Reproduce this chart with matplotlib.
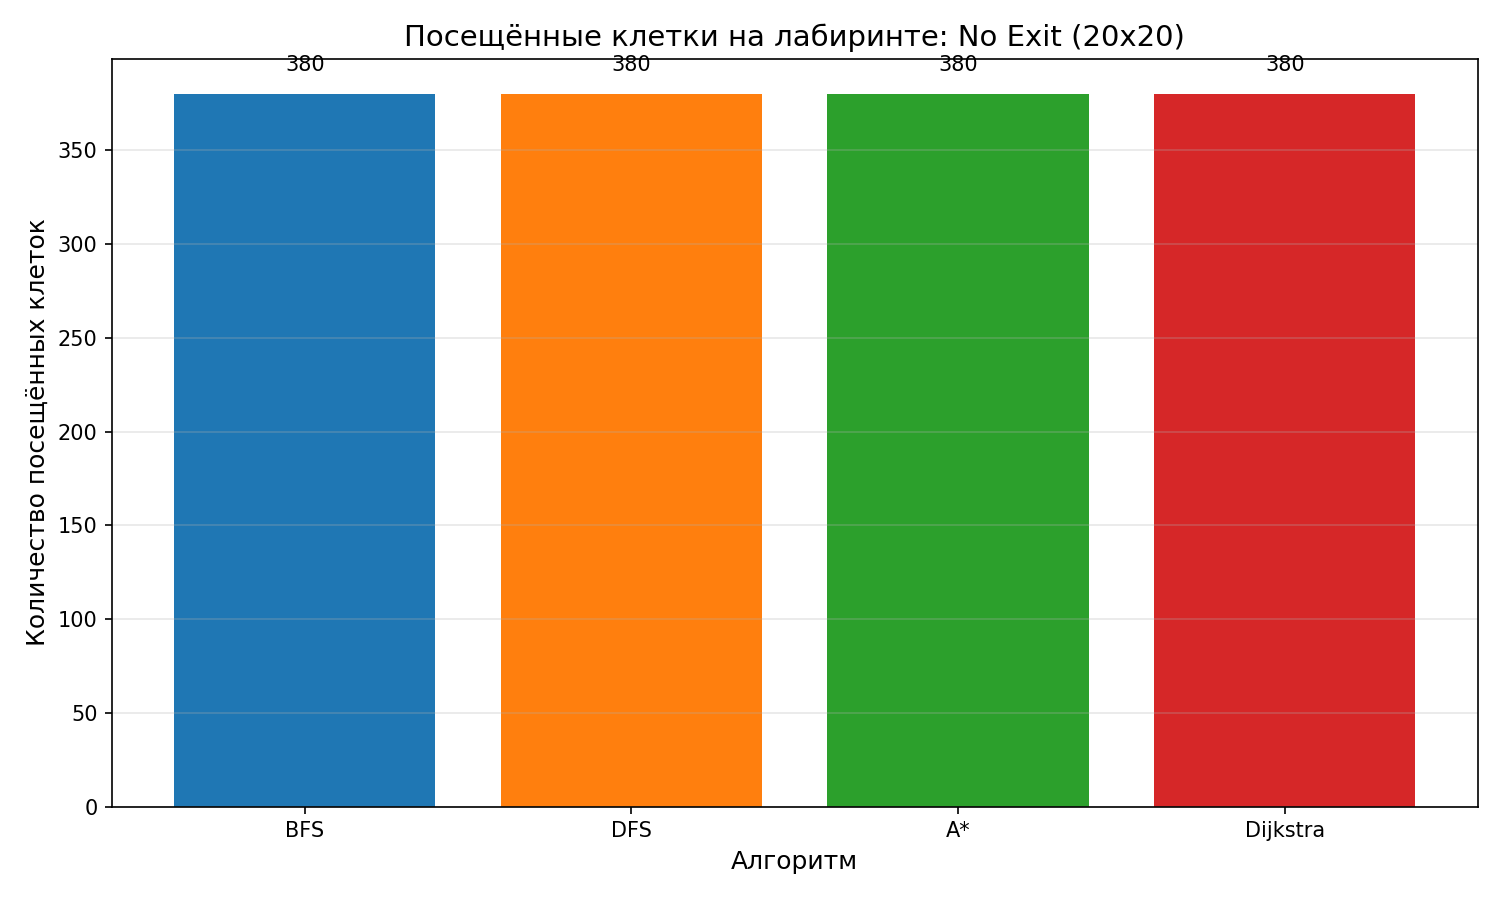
import matplotlib
matplotlib.use("Agg")
import matplotlib.pyplot as plt

algorithms = ["BFS", "DFS", "A*", "Dijkstra"]
visited = [380, 380, 380, 380]
colors = ["#1f77b4", "#ff7f0e", "#2ca02c", "#d62728"]


def main():
    fig, ax = plt.subplots(figsize=(10, 6))
    bars = ax.bar(algorithms, visited, color=colors)
    ax.set_title("Посещённые клетки на лабиринте: No Exit (20x20)", fontsize=14)
    ax.set_xlabel("Алгоритм", fontsize=12)
    ax.set_ylabel("Количество посещённых клеток", fontsize=12)
    ax.grid(axis="y", alpha=0.3)

    for bar in bars:
        height = bar.get_height()
        ax.text(bar.get_x() + bar.get_width() / 2, height + 10,
                f"{int(height)}", ha="center", va="bottom")

    plt.tight_layout()
    plt.savefig("out.png", dpi=150)


if __name__ == "__main__":
    main()
